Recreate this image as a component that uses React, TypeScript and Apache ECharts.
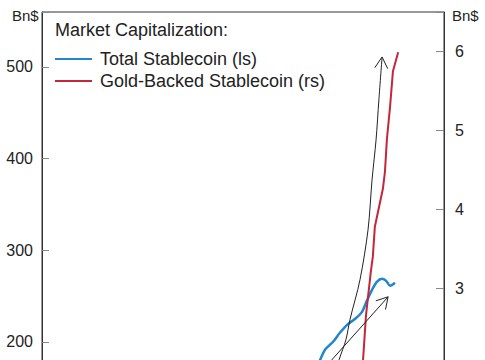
import React, { useEffect, useRef } from "react";
import * as echarts from "echarts";

// Total stablecoin market cap (left scale, Bn$)
const totalX = [66.7, 69.2, 70.4, 72.4, 74.1, 75.9, 77.9, 79.6, 80.8, 82.1, 83.3, 84.6, 85.6, 86.6, 87.8];
const totalY = [158.5, 180.4, 191.3, 200.0, 209.8, 218.5, 225.1, 232.7, 244.7, 256.7, 265.5, 268.7, 266.5, 261.1, 264.4];

// Gold-backed stablecoin market cap (right scale, Bn$)
const goldX = [78.9, 79.9, 80.6, 81.8, 82.3, 82.8, 84.8, 85.3, 85.8, 86.6, 87.3, 88.6];
const goldY = [1.61, 2.12, 2.66, 3.21, 3.4, 3.78, 4.26, 4.47, 4.89, 5.31, 5.75, 5.99];

// Annotation arrows (left scale)
const arrowCurveX = [73.1, 73.9, 75.6, 76.6, 79.1, 81.1, 82.1, 83.1, 83.8, 84.6];
const arrowCurveY = [167.3, 180.4, 202.2, 224.0, 267.6, 322.2, 376.7, 420.4, 464.0, 510.9];
const arrowStraightX = [69.9, 86.1];
const arrowStraightY = [169.5, 249.1];

// Tick labels visible in the (cropped) frame
const leftTicks = [200, 300, 400, 500];
const rightTicks = [3, 4, 5, 6];

const legendTitle = "Market Capitalization:";
const seriesNames = ["Total Stablecoin (ls)", "Gold-Backed Stablecoin (rs)"];
const seriesColors = ["#1f86cf", "#c4263a"];

const FONT = "'Liberation Sans', Arial, sans-serif";

export default function App() {
  const ref = useRef<HTMLDivElement>(null);
  useEffect(() => {
    if (!ref.current) return;
    const chart = echarts.init(ref.current, null, { renderer: "svg" });
    const zip = (xs: number[], ys: number[]) => xs.map((x, i) => [x, ys[i]]);
    const arrows = [zip(arrowCurveX, arrowCurveY), zip(arrowStraightX, arrowStraightY)];

    const legendGraphics: any[] = [];
    seriesNames.forEach((name, i) => {
      const y = 59 + i * 22;
      legendGraphics.push({
        type: "line",
        shape: { x1: 55, y1: y, x2: 92, y2: y },
        style: { stroke: seriesColors[i], lineWidth: 2 },
      });
      legendGraphics.push({
        type: "text",
        x: 100,
        y,
        style: { text: name, fontSize: 18, fill: "#222", fontFamily: FONT, verticalAlign: "middle" },
      });
    });

    chart.setOption({
      animation: false,
      backgroundColor: "#fff",
      textStyle: { fontFamily: FONT },
      grid: {
        left: 42,
        right: 41,
        top: 12,
        bottom: 35,
        show: true,
        borderColor: "#333",
        borderWidth: 1,
        backgroundColor: "transparent",
      },
      xAxis: {
        type: "value",
        min: 0,
        max: 100,
        show: false,
      },
      yAxis: [
        {
          type: "value",
          min: 0,
          max: 560,
          interval: 100,
          position: "left",
          splitLine: { show: false },
          axisLine: { show: true, lineStyle: { color: "#333" } },
          axisTick: { show: true, inside: true, length: 7, lineStyle: { color: "#888" } },
          axisLabel: {
            margin: 9,
            fontSize: 16,
            color: "#222",
            fontFamily: FONT,
            formatter: (v: number) => (leftTicks.includes(v) ? String(v) : ""),
          },
        },
        {
          type: "value",
          min: 0,
          max: 6.5,
          interval: 1,
          position: "right",
          splitLine: { show: false },
          axisLine: { show: true, lineStyle: { color: "#333" } },
          axisTick: { show: true, inside: true, length: 8, lineStyle: { color: "#888" } },
          axisLabel: {
            margin: 11,
            fontSize: 16,
            color: "#222",
            fontFamily: FONT,
            formatter: (v: number) => (rightTicks.includes(v) ? String(v) : ""),
          },
        },
      ],
      graphic: [
        { type: "text", x: 12, y: 15, style: { text: "Bn$", fontSize: 15, fill: "#222", fontFamily: FONT, verticalAlign: "middle" } },
        { type: "text", x: 452, y: 15, style: { text: "Bn$", fontSize: 15, fill: "#222", fontFamily: FONT, verticalAlign: "middle" } },
        { type: "text", x: 55, y: 30, style: { text: legendTitle, fontSize: 18, fill: "#222", fontFamily: FONT, verticalAlign: "middle" } },
        ...legendGraphics,
      ],
      series: [
        {
          name: seriesNames[0],
          type: "line",
          yAxisIndex: 0,
          data: zip(totalX, totalY),
          symbol: "none",
          smooth: 0.3,
          color: seriesColors[0],
          lineStyle: { width: 2.5, color: seriesColors[0] },
          z: 3,
        },
        {
          name: seriesNames[1],
          type: "line",
          yAxisIndex: 1,
          data: zip(goldX, goldY),
          symbol: "none",
          color: seriesColors[1],
          lineStyle: { width: 2, color: seriesColors[1] },
          z: 3,
        },
        {
          name: "arrows",
          type: "custom",
          yAxisIndex: 0,
          data: [[0, 0], [1, 0]],
          silent: true,
          z: 4,
          renderItem: (params: any, api: any) => {
            const idx = params.dataIndex;
            const pts = arrows[idx].map((p) => api.coord(p));
            const n = pts.length;
            const tip = pts[n - 1];
            const prev = pts[n - 2];
            const ang = Math.atan2(tip[1] - prev[1], tip[0] - prev[0]);
            const len = 13;
            const spread = (30 * Math.PI) / 180;
            const w1 = [tip[0] - len * Math.cos(ang - spread), tip[1] - len * Math.sin(ang - spread)];
            const w2 = [tip[0] - len * Math.cos(ang + spread), tip[1] - len * Math.sin(ang + spread)];
            const style = { stroke: "#222", lineWidth: 1, fill: null };
            return {
              type: "group",
              children: [
                { type: "polyline", shape: { points: pts, smooth: idx === 0 ? 0.3 : 0 }, style },
                { type: "polyline", shape: { points: [w1, tip, w2] }, style },
              ],
            };
          },
        },
      ],
    });
    return () => chart.dispose();
  }, []);

  return (
    <div
      style={{
        position: "absolute",
        left: 0,
        top: 0,
        width: 485,
        height: 360,
        overflow: "hidden",
        background: "#fff",
      }}
    >
      <div ref={ref} style={{ width: 485, height: 560 }} />
    </div>
  );
}
